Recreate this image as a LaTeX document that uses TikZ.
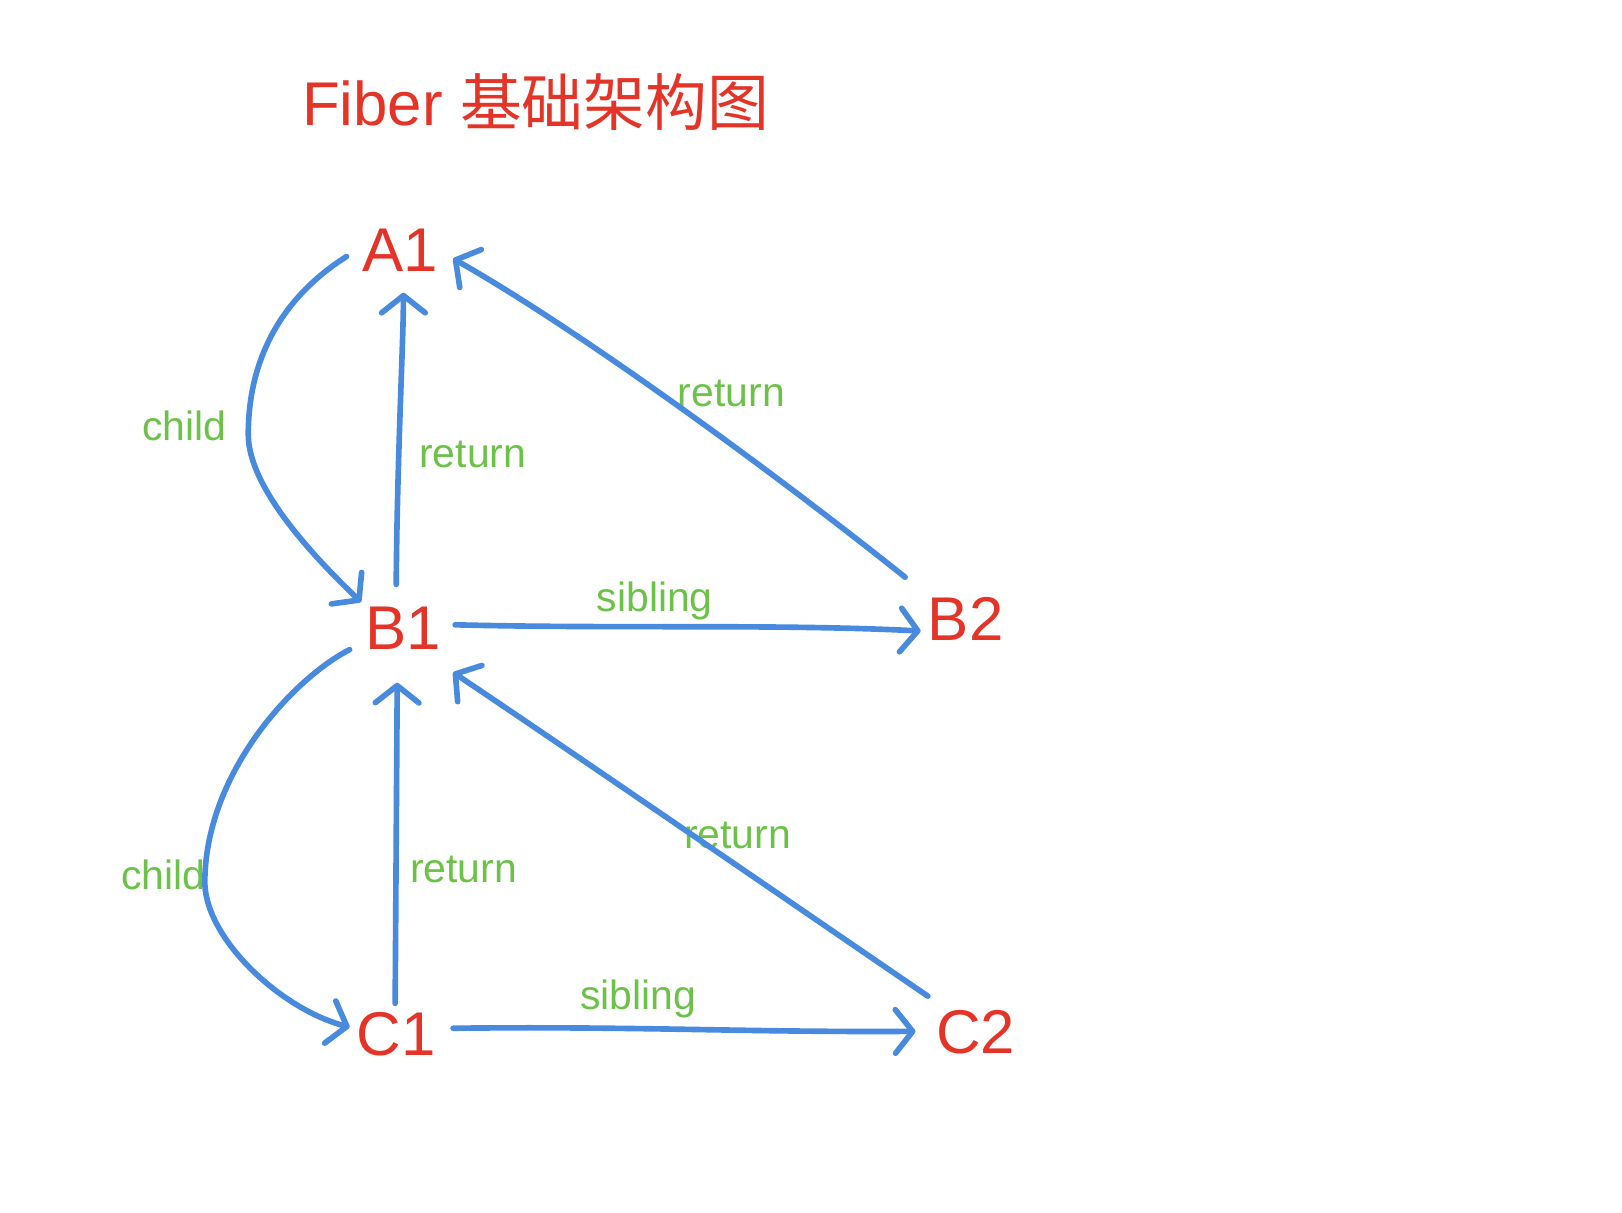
\documentclass[tikz,border=0pt]{standalone}
\usepackage{fontspec}
\setmainfont{Liberation Sans}
\newfontfamily\cjk{Noto Sans CJK SC}
\usetikzlibrary{arrows.meta,calc}
\definecolor{nodered}{RGB}{228,52,40}
\definecolor{edgeblue}{RGB}{72,138,222}
\definecolor{labgreen}{RGB}{108,194,72}
\begin{document}
\begin{tikzpicture}[x=0.02cm,y=-0.02cm,
  fib/.style={inner sep=0pt, outer sep=0pt, anchor=base west, text=nodered,
    font=\fontsize{34}{40}\selectfont},
  elab/.style={inner sep=0pt, anchor=base, text=labgreen,
    font=\fontsize{22.5}{26}\selectfont},
  conn/.style={draw=edgeblue, line width=3.1pt, line cap=round, line join=round,
    -{Straight Barb[length=9.5pt,width=24pt,line cap=round,line join=round]}}
]
\useasboundingbox (0,0) rectangle (1568,1172);

% title
\node[fib] (title) at (292,121) {Fiber {\cjk 基础架构图}};

% fiber nodes
\node[fib] (A1) at (350,262) {A1};
\node[fib] (B1) at (353,628) {B1};
\node[fib] (B2) at (897,619) {B2};
\node[fib] (C1) at (345,1020) {C1};
\node[fib] (C2) at (905,1018) {C2};

% edge labels
\node[elab] (lchildA) at (178,426) {child};
\node[elab] (lretBA) at (457,452) {return};
\node[elab] (lretBBA) at (707,393) {return};
\node[elab] (lsibB) at (633,591) {sibling};
\node[elab] (lchildB) at (158,860) {child};
\node[elab] (lretCB) at (448,853) {return};
\node[elab] (lretCCB) at (713,820) {return};
\node[elab] (lsibC) at (617,976) {sibling};

% A1 -> B1 child
\draw[conn] ($(A1.base west)+(-15,-14)$) .. controls (300,270) and (240,320) .. (240,420)
  .. controls (240,470) and (300,535) .. ($(B1.base west)+(-4,-46)$);
% B1 -> A1 return
\draw[conn] ($(B1.base west)+(30,-63)$) .. controls (384,440) and (390,330) .. ($(A1.base west)+(40,21)$);
% B2 -> A1 return
\draw[conn] ($(B2.base west)+(-22,-61)$) .. controls (765,470) and (570,325) .. ($(A1.base west)+(88,-12)$);
% B1 -> B2 sibling
\draw[conn] ($(B1.base west)+(87,-24)$) .. controls (600,608) and (750,603) .. ($(B2.base west)+(-7,-9)$);
% B1 -> C1 child
\draw[conn] ($(B1.base west)+(-15,0)$) .. controls (285,655) and (200,745) .. (198,850)
  .. controls (196,905) and (270,975) .. ($(C1.base west)+(-7,-27)$);
% C1 -> B1 return
\draw[conn] ($(C1.base west)+(37,-50)$) -- ($(B1.base west)+(31,32)$);
% C2 -> B1 return
\draw[conn] ($(C2.base west)+(-8,-55)$) .. controls (790,890) and (550,725) .. ($(B1.base west)+(85,22)$);
% C1 -> C2 sibling
\draw[conn] ($(C1.base west)+(93,-26)$) .. controls (620,992) and (720,998) .. ($(C2.base west)+(-20,-21)$);
\end{tikzpicture}
\end{document}
